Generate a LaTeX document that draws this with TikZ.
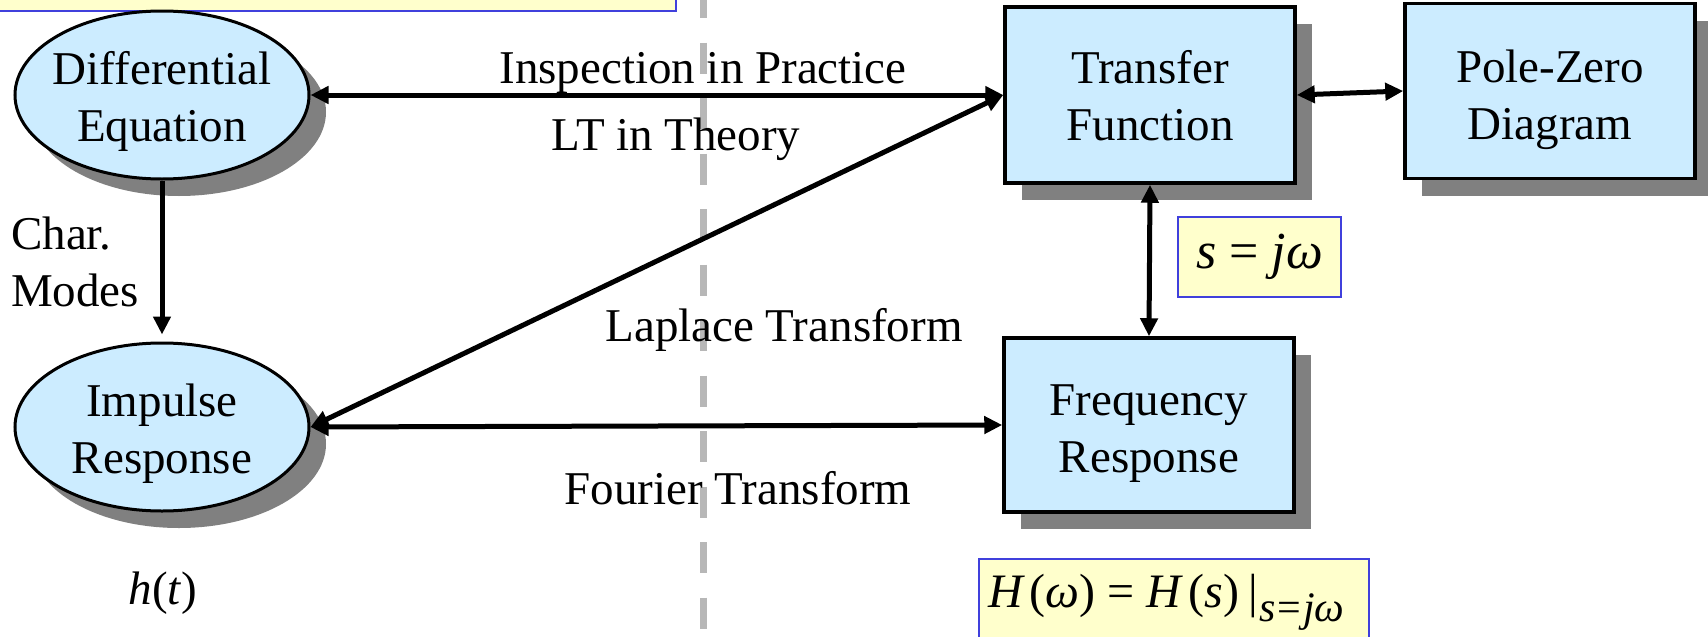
\documentclass[tikz,border=0pt]{standalone}
\usepackage{fontspec}
\setmainfont{Liberation Serif}
\usetikzlibrary{arrows.meta,shapes.geometric,shadows}
\definecolor{nodeblue}{RGB}{204,236,255}
\definecolor{noteyellow}{RGB}{255,255,204}
\definecolor{noteblue}{RGB}{64,64,220}
\definecolor{shadowgray}{RGB}{128,128,128}
\definecolor{guidegray}{RGB}{183,183,183}
\begin{document}
\begin{tikzpicture}[x=1pt,y=-1pt,
  every node/.style={font=\fontsize{47}{57}\selectfont, inner sep=0pt},
  shadowed/.style={drop shadow={shadow xshift=17pt,shadow yshift=-17pt,opacity=1,fill=shadowgray}},
  oval/.style={ellipse, draw=black, line width=3pt, fill=nodeblue, shadowed, minimum width=294pt, minimum height=168pt},
  block/.style={rectangle, draw=black, line width=3.5pt, fill=nodeblue, shadowed, minimum width=290pt, minimum height=176pt},
  note/.style={rectangle, draw=noteblue, line width=1.5pt, fill=noteyellow},
  tipend/.tip={Triangle[length=18pt,width=17pt]},
  link/.style={line width=5pt, tipend-tipend},
  onelink/.style={line width=5pt, -tipend},
]
\useasboundingbox (0,0) rectangle (1708,637);
% dashed guide line
\draw[guidegray, line width=7pt, dash pattern=on 31pt off 24.5pt] (703,-13) -- (703,660);
% cut-off note at top left
\node[note, minimum width=700pt, minimum height=80pt] (topnote) at (326,-29) {};
% ovals
\node[oval] (de) at (162,95) {};
\node[align=center] (detext) at (162,101) {Differential\\Equation};
\node[oval] (ir) at (162,427) {};
\node[align=center] (irtext) at (162,434) {Impulse\\Response};
% blocks
\node[block] (tf) at (1150,95) {};
\node[align=center] (tftext) at (1150,96) {Transfer\\Function};
\node[block, minimum height=175pt] (pz) at (1550,91) {};
\node[align=center] (pztext) at (1550,100) {Pole-Zero\\Diagram};
\node[block, minimum height=174pt] (fr) at (1149,425) {};
\node[align=center] (frtext) at (1149,434) {Frequency\\Response};
% notes
\node[note, minimum width=163pt, minimum height=80pt] (sbox) at (1259.5,257) {\fontsize{52}{60}\selectfont\textit{s} = \textit{jω}};
\node[note, minimum width=390pt, minimum height=110pt, anchor=north west] (hbox) at (978,558) {};
\node[anchor=base west] (hform) at (988,607) {\fontsize{48}{57}\selectfont\textit{H}\hspace{0.1em}(\textit{ω}) = \textit{H}\hspace{0.1em}(\textit{s})\hspace{0.2em}|\hspace{0.03em}\raisebox{-14pt}{\fontsize{42}{46}\selectfont\textit{s}\hspace{0.04em}=\hspace{0.04em}\textit{jω}}};
% connectors
\draw[onelink, shorten >=7pt] (de.south) -- (ir.north);
\draw[link] (de.east) -- (tf.west);
\draw[link] (ir.east) -- (tf.west);
\draw[link] (ir.east) -- (fr.west);
\draw[link] (tf.south) -- (fr.north);
\draw[link] (tf.east) -- (pz.west);
% labels
\node[anchor=base] (insp) at (703,83) {Inspection in Practice};
\node[anchor=base] (lt) at (676,150) {LT in Theory};
\node[anchor=base] (lap) at (784,341) {Laplace Transform};
\node[anchor=base] (four) at (738,504) {Fourier Transform};
\node[anchor=west, align=left] (modes) at (11,262) {Char.\\Modes};
\node (ht) at (163,593) {\textit{h}(\textit{t})};
\end{tikzpicture}
\end{document}
